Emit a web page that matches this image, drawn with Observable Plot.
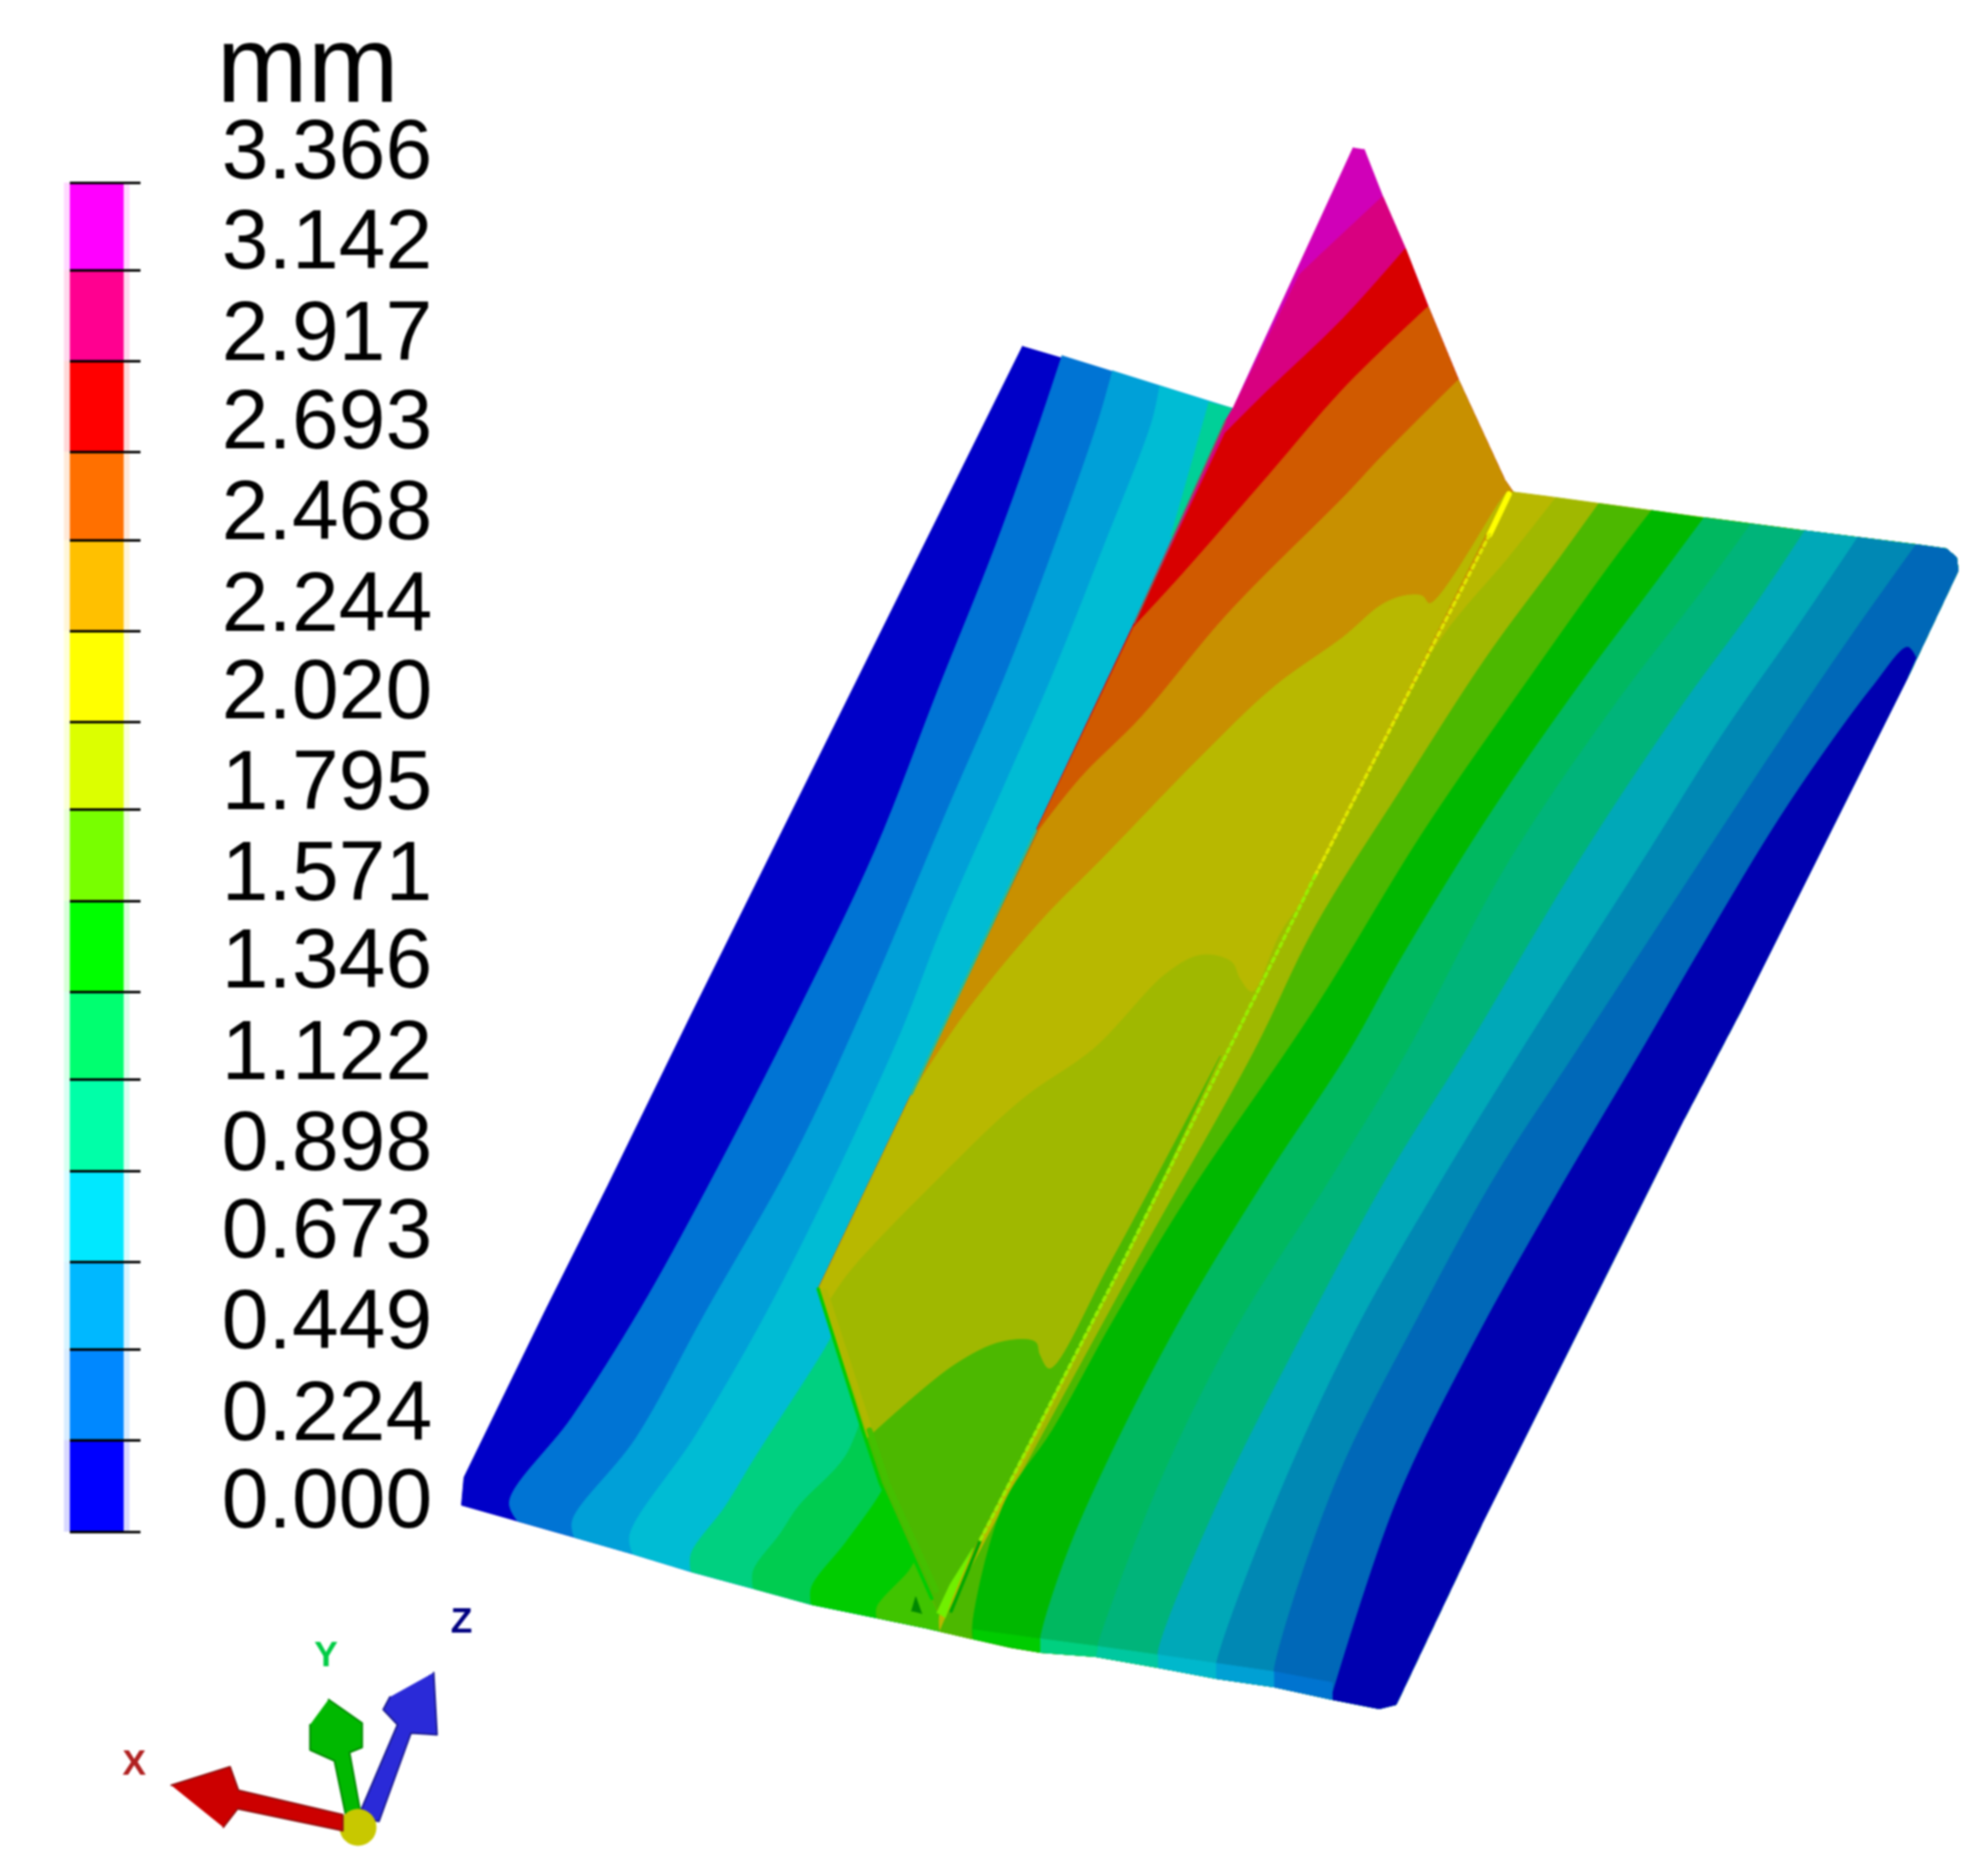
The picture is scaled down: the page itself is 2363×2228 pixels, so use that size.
<!DOCTYPE html>
<html><head><meta charset="utf-8">
<script src="https://cdn.jsdelivr.net/npm/d3@7"></script>
<script src="https://cdn.jsdelivr.net/npm/@observablehq/plot@0.6"></script>
<style>html,body{margin:0;padding:0;background:#fff}svg{display:block}</style>
</head><body><div id="chart"></div>
<script>
const unit = "mm";
const legendLabels = ["3.366","3.142","2.917","2.693","2.468","2.244","2.020","1.795","1.571","1.346","1.122","0.898","0.673","0.449","0.224","0.000"];
const legendLabelY = [179,286,395,500,608,717,821,929,1037,1141,1250,1358,1462,1570,1679,1783];
const legendTickY = [217,321,429,537,642,750,858,962,1071,1179,1283,1392,1500,1604,1712,1821];
const legendColors = ["#ff00ff","#ff0090","#ff0000","#ff7000","#ffc000","#ffff00","#dcff00","#78ff00","#00ff00","#00ff70","#00ffa8","#00e8ff","#00b8ff","#0088ff","#0000ff"];

// left flange: contour boundaries
const leftBottom = [[548,1789],[615,1808],[682,1827],[752,1847],[821,1868],[895,1888],[964,1907],[1042,1923],[1100,1935],[1156,1948]];
const leftOuterEdge = [[1215,411],[824,1200],[722,1409],[648,1557],[551,1756],[548,1789]];
const leftOuterColor = "#0000c8";
const leftBands = [
 ["#0074d4",[[1262,422],[1236,500],[1183,648],[1116,816],[1040,1010],[949,1200],[839,1414],[760,1557],[679,1685],[605,1785],[615,1808]]],
 ["#00a0d8",[[1322,440],[1305,500],[1244,673],[1193,806],[1127,959],[1025,1200],[944,1373],[837,1562],[755,1710],[680,1807],[682,1827]]],
 ["#00bcd4",[[1378,458],[1369,500],[1310,653],[1249,806],[1193,934],[1120,1100],[1065,1240],[923,1537],[827,1705],[748,1825],[752,1847]]],
 ["#00d080",[[1000,1565],[980,1603],[898,1731],[862,1790],[821,1847],[821,1868]]],
 ["#00cc50",[[1030,1665],[1005,1730],[949,1790],[927,1823],[895,1867],[895,1888]]],
 ["#00cc00",[[1060,1745],[1046,1775],[1005,1833],[964,1887],[964,1907]]],
 ["#40c400",[[1090,1850],[1080,1867],[1042,1910],[1042,1923]]]
];
const leftHidden = [[1156,1948],[1400,1300],[1560,600],[1465,485]];
const topStripe = [[1436,478],[1465,485],[1400,640],[1391,637]];

// right flange
const rightBottom = [[1117,1939],[1156,1948],[1200,1958],[1236,1964],[1302,1969],[1376,1982],[1445,1995],[1514,2005],[1583,2020],[1639,2031],[1659,2026]];
const rightEdge = [[1659,2026],[1761,1811],[2000,1332],[2073,1193],[2267,805],[2327,678],[2325,662],[2313,652]];
const rightTop = [[2277,647],[2140,630],[2025,615],[1900,598],[1849,591],[1803,585]];
const rightBands = [
 ["#b8b800",[[1797,583],[1563,1040],[1333,1503],[1117,1917],[1117,1939]]],
 ["#a0b800",[[1849,591],[1793,662],[1716,754],[1640,880],[1570,1020],[1540,1060],[1333,1503],[1117,1939]]],
 ["#4cb800",[[1900,598],[1854,662],[1767,780],[1665,938],[1563,1101],[1490,1250],[1345,1510],[1125,1920],[1117,1939]]],
 ["#00b800",[[1963,606],[1920,662],[1818,805],[1691,989],[1563,1198],[1414,1418],[1322,1571],[1251,1699],[1193,1787],[1156,1927],[1156,1948]]],
 ["#00b860",[[2025,615],[1971,688],[1869,825],[1767,973],[1665,1139],[1603,1250],[1506,1398],[1404,1566],[1317,1735],[1266,1852],[1236,1949],[1236,1964]]],
 ["#00b47a",[[2081,622],[2022,703],[1920,836],[1793,1024],[1672,1250],[1583,1398],[1470,1577],[1379,1760],[1305,1954],[1302,1969]]],
 ["#00a8b8",[[2145,630],[2083,723],[1997,841],[1879,1019],[1741,1250],[1649,1398],[1547,1587],[1445,1791],[1376,1964],[1376,1982]]],
 ["#0088b4",[[2208,638],[2140,739],[2048,871],[1961,1009],[1807,1250],[1710,1408],[1608,1587],[1516,1786],[1445,1980],[1445,1995]]],
 ["#0068b8",[[2277,647],[2201,754],[2114,882],[1997,1060],[1873,1250],[1777,1398],[1685,1566],[1588,1760],[1514,1985],[1514,2005]]]
];
const rightTipEdge = [[2277,782],[2267,769],[2226,815],[2124,958],[2022,1126],[1950,1250],[1848,1423],[1751,1597],[1659,1786],[1583,2015]];
const rightTipClose = [[1583,2020],[1639,2031],[1659,2026],[1761,1811],[2000,1332],[2073,1193],[2267,805]];
const frontStrip = [
 ["#00cc00",[[1156,1937],[1236,1948],[1236,1964],[1156,1948]]],
 ["#00d080",[[1236,1948],[1305,1957],[1302,1969],[1236,1964]]],
 ["#00c8a0",[[1305,1957],[1376,1967],[1376,1982],[1302,1969]]],
 ["#00b8cc",[[1376,1967],[1445,1977],[1445,1995],[1376,1982]]],
 ["#00a0d4",[[1445,1977],[1514,1987],[1514,2005],[1445,1995]]],
 ["#0074d0",[[1514,1987],[1583,2000],[1583,2020],[1514,2005]]]
];

// web (vertical stiffener)
const webRight = [[1621,177],[1643,233],[1670,295],[1697,364],[1733,451],[1788,570],[1797,583]];
const weld = [[1797,583],[1563,1040],[1333,1503],[1117,1917]];
const webLeftUp = [[1113,1912],[1107,1900],[1046,1763],[1025,1700],[972,1532],[1083,1300],[1231,987],[1348,740],[1456,500],[1465,485],[1608,175]];
const webBaseColor = "#d000b8";
const webBands = [
 ["#d80080",[[1543,327],[1565,306],[1643,233]]],
 ["#d80000",[[1455,515],[1500,470],[1596,378],[1670,295]]],
 ["#d05a00",[[1346,746],[1404,683],[1507,565],[1596,462],[1697,364]]],
 ["#c89000",[[1234,987],[1285,923],[1356,852],[1458,730],[1600,587],[1641,543],[1733,451]]],
 ["#b8b800",[[1083,1300],[1147,1204],[1239,1092],[1310,1020],[1428,898],[1514,816],[1596,757],[1641,719],[1668,708],[1690,708],[1699,717],[1782,596],[1790,585]]],
 ["#a0b800",[[985,1547],[1010,1511],[1112,1404],[1214,1307],[1300,1246],[1387,1156],[1428,1135],[1463,1143],[1473,1163],[1488,1179],[1524,1105],[1600,1000],[1612,950]]],
 ["#4cb800",[[1028,1712],[1133,1623],[1190,1595],[1230,1595],[1235,1610],[1247,1627],[1320,1500],[1450,1255]]]
];
const webEdgeOuter = [[972,1532],[1025,1700],[1046,1763],[1107,1900]];
const webEdgeUpper = [[980,1535],[1033,1700]];
const webEdgeLower = [[1033,1700],[1054,1763],[1112,1890]];
const webEdgeGreen = [[1083,1300],[1180,1095],[1231,987]];
const webEdgeGrey = [[1348,740],[1400,625],[1456,500]];
const weldTop = [[1793,587],[1770,635]];
const weldUpper = [[1770,635],[1563,1040]];
const weldLower = [[1563,1040],[1333,1503],[1165,1830]];
const footLime = [[1113,1917],[1129,1883],[1156,1840],[1131,1900],[1123,1923]];
const footDark = [[1083,1915],[1088,1898],[1095,1918]];
const footShade = [[1165,1830],[1130,1915]];

// triad
const arrowX = [[203,2122],[273,2100],[283,2128],[407,2157],[407,2176],[282,2150],[265,2172]];
const arrowY = [[390,2020],[430,2048],[430,2077],[415,2083],[430,2165],[412,2165],[397,2093],[368,2080],[368,2050]];
const arrowZ = [[515,1988],[519,2062],[488,2060],[450,2165],[425,2160],[472,2050],[455,2032],[463,2017]];
const triadLabels = [["X",159,2096,"#b02020"],["Y",387,1967,"#00cc44"],["Z",548,1927,"#000080"]];
const triadBall = [[425,2172]];

const poly = (pts, color, extra = {}) => Plot.line(pts, {x: d => d[0], y: d => d[1], fill: color, stroke: color, strokeWidth: 1, ...extra});
const edge = (pts, color, width, extra = {}) => Plot.line(pts, {x: d => d[0], y: d => d[1], stroke: color, strokeWidth: width, ...extra});
// A boundary is drawn as a smooth curve; each doubled vertex keeps a sharp corner in the outline.
const sharp = pts => pts.flatMap(p => [p, p]);
const band = (boundary, closure, color) => poly(
  [boundary[0], ...boundary, boundary[boundary.length - 1], ...sharp(closure)],
  color, {curve: "catmull-rom"}
);

const leftMarks = leftBands.map(([c, b]) => {
  const end = b[b.length - 1];
  return band(b, [...leftBottom.filter(p => p[0] > end[0]), ...leftHidden], c);
});
const rightMarks = rightBands.map(([c, b]) => {
  const s = b[0], e = b[b.length - 1];
  return band(b, [...rightBottom.filter(p => p[0] > e[0]), ...rightEdge, ...rightTop.filter(p => p[0] > s[0])], c);
});
const webOutline = [...webRight, ...weld.slice(1), ...webLeftUp];
const webMarks = webBands.map(([c, b]) => {
  const l = b[0], r = b[b.length - 1];
  return band(b, [
    ...webRight.filter(p => p[1] > r[1]),
    ...weld.filter(p => p[1] > r[1]),
    ...webLeftUp.filter(p => p[1] > l[1])
  ], c);
});

const legendRows = legendColors.map((color, i) => ({color, y1: legendTickY[i], y2: legendTickY[i + 1], x1: 83, x2: 147, hx1: 76, hx2: 154}));
const labelRows = legendLabels.map((t, i) => ({t, y: legendLabelY[i], x: 263}));

const chart = Plot.plot({
  width: 2363, height: 2228, margin: 0,
  x: {domain: [0, 2363], range: [0, 2363], axis: null},
  y: {domain: [0, 2228], range: [0, 2228], axis: null},
  color: {type: "identity"},
  style: {background: "#fff", filter: "blur(0.9px)"},
  marks: [
    Plot.rect(legendRows, {x1: "hx1", x2: "hx2", y1: "y1", y2: "y2", fill: "color", fillOpacity: 0.15}),
    Plot.rect(legendRows, {x1: "x1", x2: "x2", y1: "y1", y2: "y2", fill: "color"}),
    Plot.ruleY(legendTickY, {x1: 83, x2: 167, stroke: "#000", strokeWidth: 3}),
    Plot.text(labelRows, {x: "x", y: "y", text: "t", textAnchor: "start", fontSize: 100, fontFamily: "Liberation Sans", fill: "#000"}),
    Plot.text([unit], {x: 257, y: 79, text: d => d, textAnchor: "start", fontSize: 130, fontFamily: "Liberation Sans", fill: "#000"}),

    poly([...leftOuterEdge, ...leftBottom.slice(1), ...leftHidden], leftOuterColor),
    ...leftMarks,
    poly(topStripe, "#00d098"),
    ...rightMarks,
    band(rightTipEdge, rightTipClose, "#0000b0"),
    ...frontStrip.map(([c, q]) => poly(q, c)),

    poly(webOutline, webBaseColor),
    ...webMarks,
    edge(webEdgeOuter, "#00cc00", 4),
    edge(webEdgeUpper, "#b0b800", 7),
    edge(webEdgeLower, "#44c000", 7),
    edge(webEdgeGreen, "#30b890", 3),
    edge(webEdgeGrey, "#806060", 2),
    edge(footShade, "#00a800", 4),
    poly(footLime, "#70f000"),
    poly(footDark, "#008800"),
    edge(weldTop, "#ffff00", 7),
    edge(weldUpper, "#e0e800", 4, {strokeDasharray: "5,5"}),
    edge(weldLower, "#98f000", 4, {strokeDasharray: "5,5"}),

    poly(arrowZ, "#2a2ad8", {stroke: "#1a1a90", strokeWidth: 2}),
    poly(arrowY, "#00b800", {stroke: "#008800", strokeWidth: 2}),
    Plot.dot(triadBall, {x: d => d[0], y: d => d[1], r: 22, fill: "#c8c800"}),
    poly(arrowX, "#cc0000", {stroke: "#901010", strokeWidth: 2}),
    Plot.text(triadLabels, {x: d => d[1], y: d => d[2], text: d => d[0], fill: d => d[3], fontSize: 42, fontWeight: "bold", fontFamily: "Liberation Sans"})
  ]
});
document.getElementById("chart").appendChild(chart);
</script>
</body></html>
